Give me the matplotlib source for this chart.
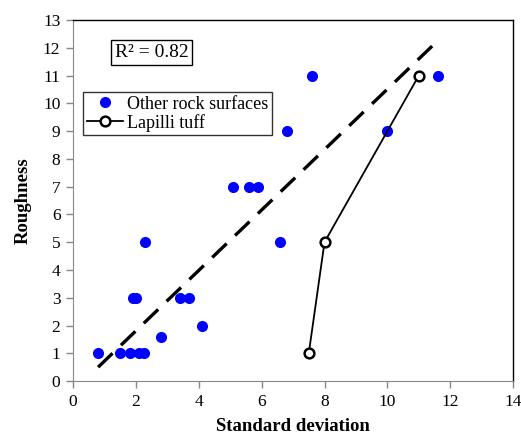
import numpy as np
import matplotlib.pyplot as plt

plt.rcParams['font.family'] = ['Liberation Serif', 'DejaVu Serif']

# other rock surfaces
other_x = [0.8, 1.5, 1.8, 2.1, 2.25, 1.92, 2.0, 2.3, 2.8, 3.4, 3.7, 4.1,
           5.1, 5.6, 5.9, 6.6, 6.8, 7.6, 10.0, 11.6]
other_y = [1, 1, 1, 1, 1, 3, 3, 5, 1.6, 3, 3, 2,
           7, 7, 7, 5, 9, 11, 9, 11]

# lapilli tuff
tuff_x = [7.5, 8.0, 11.0]
tuff_y = [1, 5, 11]

# trendline ends
trend_x = [0.8, 11.57]
trend_y = [0.5, 12.22]
r2_text = 'R² = 0.82'

fig = plt.figure(figsize=(5.21, 4.34), dpi=100)
ax = fig.add_axes([0.140, 0.122, 0.845, 0.832])

ax.plot(trend_x, trend_y, color='black', lw=2.4, ls=(0, (6, 3.5)), zorder=1)
ax.plot(other_x, other_y, 'o', color='#0000ff', ms=8, mec='none',
        label='Other rock surfaces', zorder=3)
ax.plot(tuff_x, tuff_y, '-o', color='black', lw=1.3, ms=7, mfc='white',
        mec='black', mew=1.8, label='Lapilli tuff', zorder=4)

ax.set_xlim(0, 14)
ax.set_ylim(0, 13)
ax.set_xticks(np.arange(0, 15, 2))
ax.set_yticks(np.arange(0, 14, 1))
ax.tick_params(direction='out', length=5, width=1, colors='#888888',
               labelcolor='black', labelsize=12.5, pad=4)
for s in ['left', 'bottom']:
    ax.spines[s].set_color('#888888')
for s in ['top', 'right']:
    ax.spines[s].set_color('black')
    ax.spines[s].set_linewidth(1.0)

ax.set_xlabel('Standard deviation', fontsize=13.5, fontweight='bold', labelpad=6)
ax.set_ylabel('Roughness', fontsize=13.5, fontweight='bold', labelpad=8)

leg = ax.legend(loc='upper left', bbox_to_anchor=(0.023, 0.80), borderaxespad=0,
                fontsize=13, frameon=True, fancybox=False, edgecolor='black',
                handlelength=2.0, handletextpad=0.25, borderpad=0.2,
                labelspacing=0.05)
leg.get_frame().set_linewidth(1.0)

ax.text(0.095, 0.91, r2_text, transform=ax.transAxes, fontsize=14,
        ha='left', va='center',
        bbox=dict(boxstyle='square,pad=0.2', fc='white', ec='black', lw=1.0))

fig.savefig('out.png', dpi=100)
